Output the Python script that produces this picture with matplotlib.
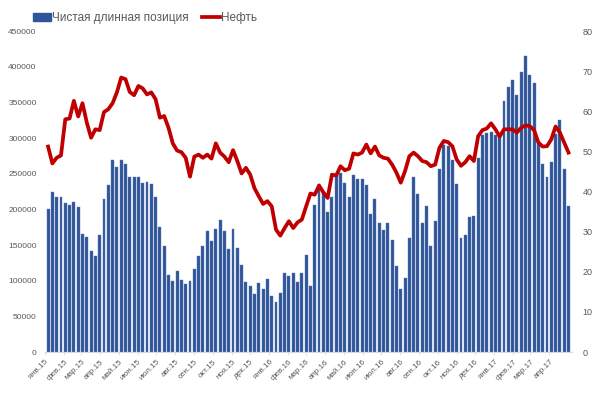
import numpy as np
import pandas as pd
import matplotlib
matplotlib.use("Agg")
import matplotlib.pyplot as plt
from matplotlib.patches import Patch
from matplotlib.lines import Line2D

plt.rcParams['font.family'] = ['Liberation Sans', 'DejaVu Sans']

# weekly data, Jan 2015 - May 2017
week_dates = pd.date_range('2015-01-06', periods=122, freq='W-TUE')

net_long = [
    200000, 225000, 218000, 218000, 209000, 206000, 210000, 203000, 165000, 161000,
    141000, 135000, 164000, 214000, 234000, 269000, 260000, 269000, 263000, 246000,
    246000, 246000, 237000, 238000, 236000, 217000, 175000, 148000, 108000, 100000,
    113000, 101000, 95000, 100000, 117000, 134000, 149000, 170000, 155000, 173000,
    185000, 169000, 144000, 173000, 146000, 122000, 98000, 92000, 82000, 97000,
    88000, 102000, 78000, 70000, 83000, 111000, 106000, 111000, 98000, 111000,
    136000, 92000, 206000, 236000, 225000, 196000, 217000, 247000, 251000, 237000,
    218000, 248000, 243000, 242000, 234000, 193000, 214000, 181000, 171000, 181000,
    157000, 121000, 88000, 104000, 160000, 246000, 221000, 181000, 205000, 148000,
    183000, 256000, 290000, 289000, 269000, 236000, 160000, 164000, 189000, 190000,
    272000, 304000, 307000, 308000, 304000, 302000, 352000, 371000, 381000, 360000,
    392000, 415000, 388000, 377000, 295000, 263000, 246000, 267000, 306000, 325000,
    257000, 204000,
]

oil = [
    51.2, 47.0, 48.4, 49.0, 58.0, 58.2, 62.6, 58.7, 62.0, 57.2,
    53.4, 55.5, 55.3, 59.8, 60.5, 62.0, 64.7, 68.4, 68.0, 64.8,
    64.0, 66.3, 65.7, 64.2, 64.7, 63.0, 58.4, 58.8, 55.9, 52.0,
    50.2, 49.8, 48.4, 43.7, 48.7, 49.2, 48.4, 49.2, 48.2, 52.0,
    49.7, 48.7, 47.3, 50.3, 47.6, 44.5, 45.9, 44.2, 40.8, 38.8,
    36.9, 37.6, 36.3, 30.5, 29.0, 30.9, 32.6, 30.9, 32.3, 33.0,
    36.3, 39.5, 39.2, 41.5, 39.8, 38.4, 44.2, 44.0, 46.3, 45.3,
    45.7, 49.5, 49.2, 49.7, 51.7, 49.5, 51.2, 49.0, 48.4, 48.2,
    46.7, 44.7, 42.2, 45.1, 48.8, 49.7, 48.8, 47.6, 47.3, 46.3,
    46.7, 50.9, 52.6, 52.3, 51.3, 48.0, 46.4, 47.3, 48.8, 47.6,
    53.8, 55.3, 55.7, 57.0, 55.5, 53.7, 55.5, 55.5, 55.5, 54.7,
    55.9, 56.5, 56.3, 55.3, 52.2, 51.2, 51.3, 53.0, 56.2, 54.7,
    52.2, 49.7,
]

month_labels = [
    'янв.15', 'фев.15', 'мар.15', 'апр.15', 'май.15', 'июн.15', 'июл.15',
    'авг.15', 'сен.15', 'окт.15', 'ноя.15', 'дек.15', 'янв.16', 'фев.16',
    'мар.16', 'апр.16', 'май.16', 'июн.16', 'июл.16', 'авг.16', 'сен.16',
    'окт.16', 'ноя.16', 'дек.16', 'янв.17', 'фев.17', 'мар.17', 'апр.17',
]
month_starts = pd.date_range('2015-01-01', periods=len(month_labels), freq='MS')

# x in week units
x = np.arange(len(net_long))
tick_pos = (month_starts - week_dates[0]).days / 7.0

gray = '#595959'
bar_color = '#2f5597'
line_color = '#c00000'

fig = plt.figure(figsize=(6.0, 3.93), dpi=100)
ax = fig.add_axes([0.075, 0.1043, 0.8775, 0.8168])
ax2 = ax.twinx()

ax.bar(x, net_long, width=0.68, color=bar_color, edgecolor='#5b7cba', linewidth=0.3, zorder=2)
ax2.plot(x, oil, color=line_color, linewidth=2.7, solid_joinstyle='round', zorder=3)

ax.set_xlim(-0.7, len(x) - 0.3)
ax.set_ylim(0, 450000)
ax2.set_ylim(0, 80)
ax.set_yticks(np.arange(0, 450001, 50000))
ax2.set_yticks(np.arange(0, 81, 10))

ax.set_xticks(tick_pos)
ax.set_xticklabels(month_labels, rotation=45, ha='right', rotation_mode='anchor')

for a in (ax, ax2):
    for s in a.spines.values():
        s.set_visible(False)
ax.spines['bottom'].set_visible(True)
ax.spines['bottom'].set_color('#d9d9d9')
ax.spines['bottom'].set_linewidth(0.8)

ax.tick_params(axis='x', colors='#d9d9d9', length=2.5, width=0.6, labelsize=5.8, labelcolor=gray, pad=2)
ax.tick_params(axis='y', length=0, labelsize=6, labelcolor=gray, pad=6)
ax2.tick_params(axis='y', length=0, labelsize=6.5, labelcolor=gray, pad=8)

handles = [
    Patch(facecolor=bar_color, edgecolor=bar_color),
    Line2D([0], [0], color=line_color, linewidth=2.7),
]
fig.legend(handles, ['Чистая длинная позиция', 'Нефть'], loc='upper left',
           bbox_to_anchor=(0.035, 1.0), ncol=2, frameon=False, fontsize=8.5,
           labelcolor=gray, handlelength=1.5, handleheight=0.7, handletextpad=0.1,
           columnspacing=1.2, borderpad=0.5)

fig.savefig('out.png', dpi=100)
